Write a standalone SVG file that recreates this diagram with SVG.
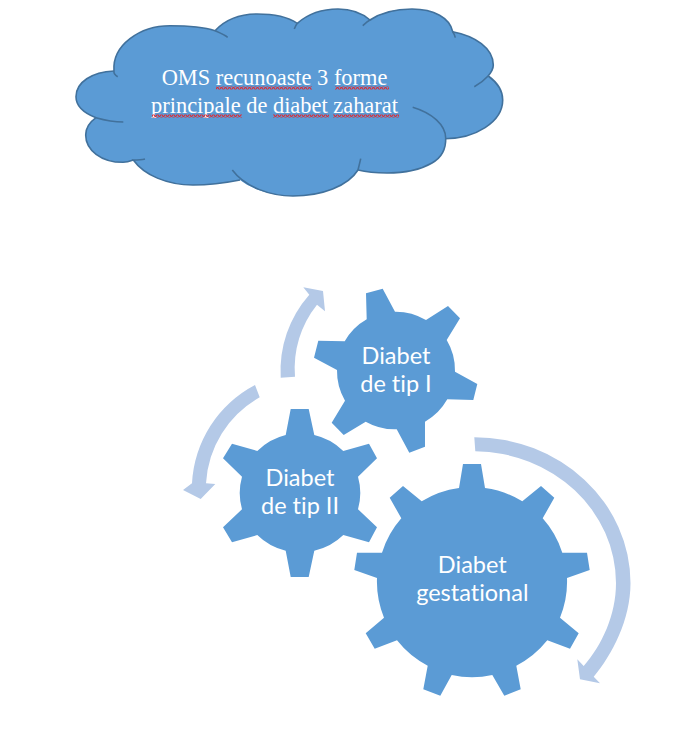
<svg xmlns="http://www.w3.org/2000/svg" width="699" height="749" viewBox="0 0 699 749">
<style>
.bg{fill:#fff}
.gear{fill:#5b9bd5}
.arrow{fill:#b4c9e7}
.cloud{fill:#5b9bd5}
.cl{fill:none;stroke:#41719c;stroke-width:1.6}
.t{font-family:"Lato","Open Sans",sans-serif;font-size:23.5px;fill:#fff;text-anchor:middle;font-variant-ligatures:none}
.c{font-family:"Liberation Serif","Times New Roman",serif;font-size:22.4px;fill:#fff;text-anchor:middle}
</style>
<defs>
<pattern id="sq" width="4" height="3" patternUnits="userSpaceOnUse"><path d="M0 2.4L1 .6L2 .6L3 2.4L4 2.4" fill="none" stroke="#dd2c35" stroke-width="1.1"/></pattern>
</defs>
<rect class="bg" width="699" height="749"/>
<g id="cloud">
<path class="cloud" d="M114 71C112 45 140 25.7 170 25.7C188 25.7 204 27 215 30.7C225 20 240 14 257 14C272 14 288 17 297.3 23.3C308 14 322 9 338 9C350 9 362 13 370 20C382 12 396 9 412 9C434 9 450 18 452.7 31.7C475 36 493.3 48 493.3 65C493.3 70 491 73 488.3 76C498 83 502.7 91 502.7 100C502.7 122 475 138.7 445 138.7C446 150 441 158 432 163C420 170 403 173 387 173C376 173 366 172 358 170C348 186 322 196 293 196C270 196 250 188 240 180C225 183 210 185 193 185C167 185 144 175 133.3 160C128 162 125 162.3 123 162.3C101 162.3 85.7 150 85.7 135C85.700 127 90 122 96 117.7C84 113 76 106 76 96.7C76 82 92 72 114 71Z"/>
<path class="cl" d="M117.700 76.700C113 74 114 72 114 71C112 45 140 25.700 170 25.700C188 25.700 204 27 215 30.700C219 32.500 224 34.500 227.700 37.300"/>
<path class="cl" d="M215 30.700C225 20 240 14 257 14C272 14 288 17 297.300 23.300C296 25 295 27 294.300 29"/>
<path class="cl" d="M297.300 23.300C308 14 322 9 338 9C350 9 362 13 370 20C367 21.500 365 23.500 362.700 25.700"/>
<path class="cl" d="M370 20C382 12 396 9 412 9C434 9 450 18 452.700 31.700C454 33.500 455 35.500 455.300 37.700"/>
<path class="cl" d="M452.700 31.700C475 36 493.300 48 493.300 65C493.300 72 485 81 474.300 86.700"/>
<path class="cl" d="M488.300 76C498 83 502.700 91 502.700 100C502.700 122 475 138.700 445 138.700"/>
<path class="cl" d="M412.700 107.300C432 113 445.700 125 445.700 138.300C446 150 441 158 432 163C420 170 403 173 387 173C376 173 366 172 358 170C359 166 360 162 360.700 158.700"/>
<path class="cl" d="M358 170C348 186 322 196 293 196C270 196 245 187 232.300 170"/>
<path class="cl" d="M240 180C225 183 210 185 193 185C167 185 144 175 133.300 160C137 160 141 160 145 159"/>
<path class="cl" d="M133.300 160C128 162 125 162.300 123 162.300C101 162.300 85.700 150 85.700 135C85.700 127 90 122 96 117.700C104 120 113 122 123.300 122"/>
<path class="cl" d="M96 117.700C84 113 76 106 76 96.700C76 82 92 72 114 71"/>
<text class="c" x="274.500" y="85">OMS recunoaste 3 forme</text>
<text class="c" x="274.500" y="113">principale de diabet zaharat</text>
<rect x="216" y="86.500" width="96" height="3" fill="url(#sq)"/>
<rect x="335" y="86.500" width="54" height="3" fill="url(#sq)"/>
<rect x="152" y="114.500" width="90" height="3" fill="url(#sq)"/>
<rect x="273" y="114.500" width="56" height="3" fill="url(#sq)"/>
<rect x="333" y="114.500" width="66" height="3" fill="url(#sq)"/>
</g>
<g id="connectors">
<path class="arrow" d="M280.700 377.700A115 115 0 0 1 309.300 294.700L303.300 287.300L323 291L325 311.300L317 304.700A102 102 0 0 0 295 376.700Z"/>
<path class="arrow" d="M255 385A118 118 0 0 0 192 483.300L183 490L200.700 499L215.300 484L206 483.300A105 105 0 0 1 259.700 397.300Z"/>
<path class="arrow" d="M474.300 437.300A156 146 0 0 1 630.500 583C630.500 620 612 655 593.700 676.700L600 683.300L580 679.300L577.300 659.300L583.700 666C602 645 616 615 616 583A142 132 0 0 0 475.300 451.300Z"/>
</g>
<g id="gear-tip-1">
<path class="gear" d="M366 293.300L382.700 288.700L395 311.700A59 59 0 0 1 426 320L448 306L460 318.300L446.700 340A59 59 0 0 1 455 371.700L477.300 384L473.300 400L447.300 399.300A59 59 0 0 1 425 421.700L425 446.700L409.300 452.700L396.700 429.300A59 59 0 0 1 365.700 421.700L343.700 435L331.700 422.700L345 400.700A59 59 0 0 1 337 370L314 357.700L318.300 340.700L344.700 341.300A59 59 0 0 1 366.700 319.300Z"/>
<text class="t" x="396" y="363.500">Diabet</text>
<text class="t" x="396" y="391.700">de tip I</text>
</g>
<g id="gear-tip-2">
<path class="gear" d="M290.700 409L308.700 409L314.300 435A60 60 0 0 1 343.300 451L369 443.700L377 458.300L358 476.700A60 60 0 0 1 358 509.300L377 527.300L369 542.300L343.300 535A60 60 0 0 1 314.300 550.700L308.700 577L290.700 577L285.700 550.700A60 60 0 0 1 257.300 535L232 542.300L223 527.300L242 509.300A60 60 0 0 1 242 476.700L223 458.300L232 443.700L257.300 451A60 60 0 0 1 285.700 435Z"/>
<text class="t" x="300" y="485.700">Diabet</text>
<text class="t" x="300" y="514">de tip II</text>
</g>
<g id="gear-gestational">
<path class="gear" d="M463 464L481 464L485 488A95 95 0 0 1 522.300 501.300L541 486L554.300 497.700L542.700 518.300A95 95 0 0 1 562.300 552.700L587 552.700L589.700 570L567 578A95 95 0 0 1 560 617.700L578.700 633.300L570 648.700L547.300 640.300A95 95 0 0 1 516.300 665.700L520.700 689.300L504.300 695.700L492.300 675A95 95 0 0 1 451.700 675L440.300 695.700L423.300 689.300L427.700 665.700A95 95 0 0 1 397 640.300L374.700 648.700L365.700 633.300L384 617.700A95 95 0 0 1 377 578L354.300 570L357 552.700L382 552.700A95 95 0 0 1 401.300 518.300L389.700 497.700L403 486L421.700 501.300A95 95 0 0 1 459 488Z"/>
<text class="t" x="472.300" y="572.700">Diabet</text>
<text class="t" x="472.300" y="600.700">gestational</text>
</g>
</svg>
